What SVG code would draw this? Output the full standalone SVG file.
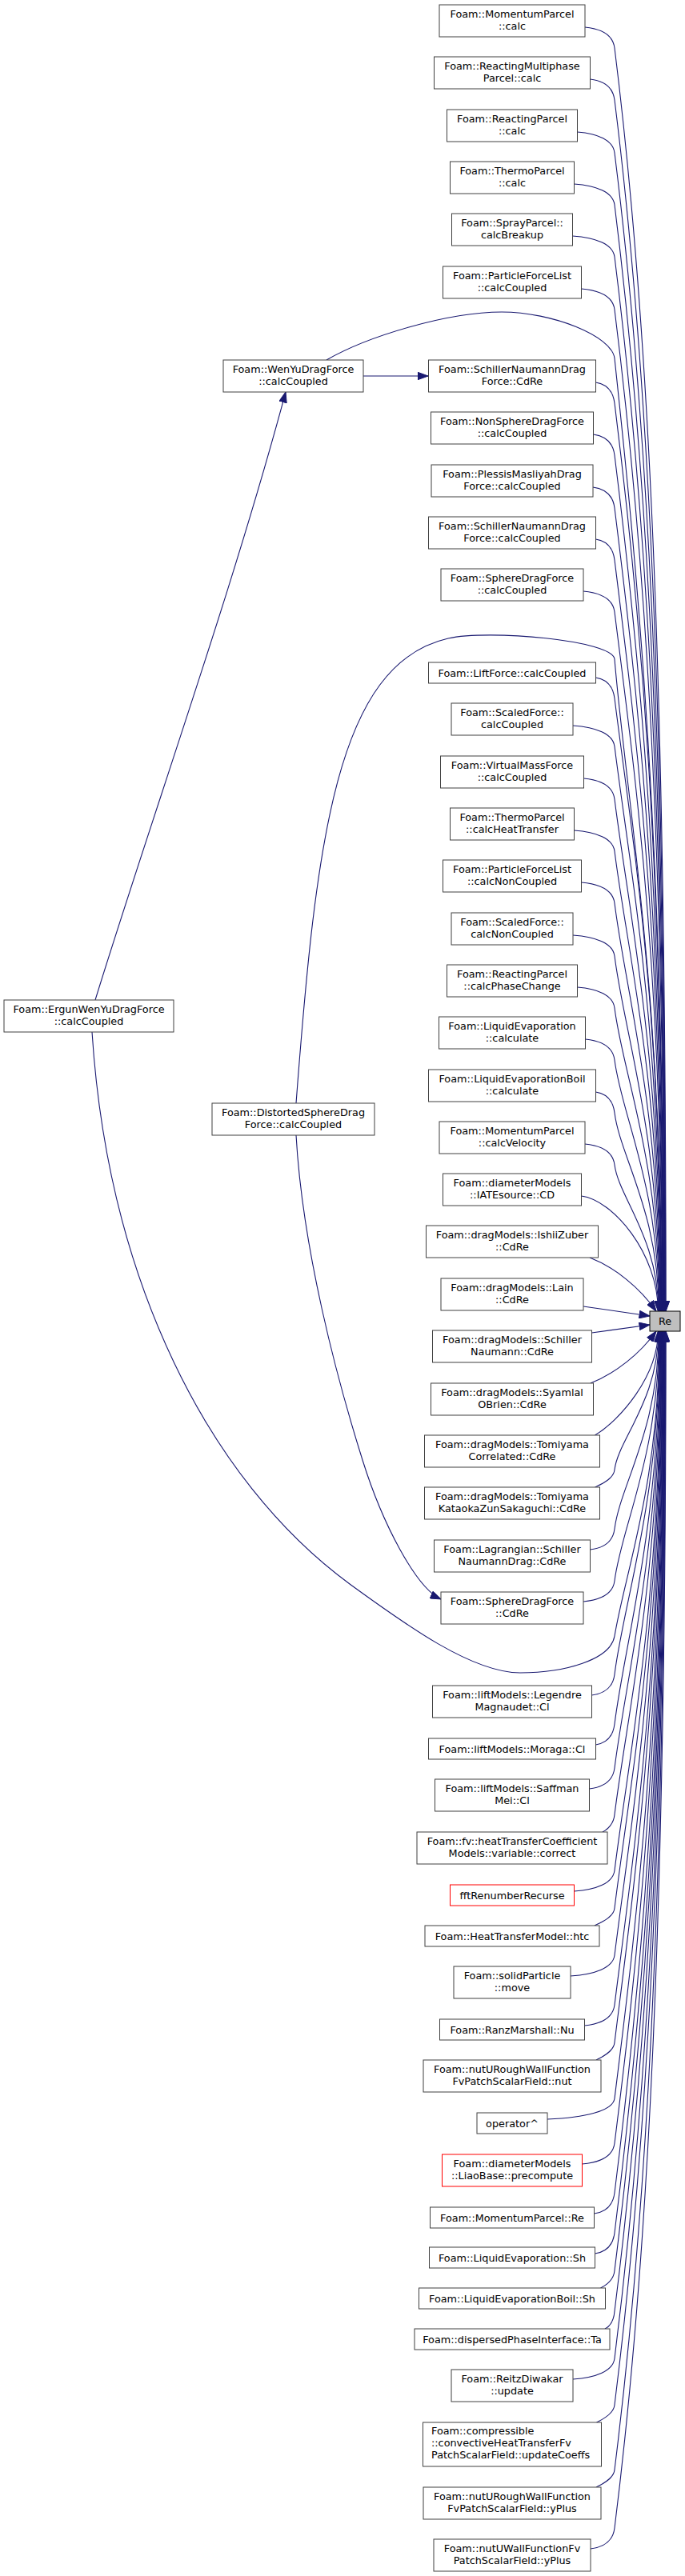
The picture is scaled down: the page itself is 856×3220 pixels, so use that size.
<svg xmlns="http://www.w3.org/2000/svg" width="856" height="3220" viewBox="0 0 856 3220">
<style>
.node rect{fill:#ffffff;stroke:#404040;stroke-width:1}
.node.red rect{stroke:#ff0000}
#re rect{fill:#bfbfbf;stroke:#000000}
text{font-family:"DejaVu Sans",sans-serif;font-size:12.8px;fill:#000000;text-anchor:middle}
text.l{text-anchor:start}
.edges path{fill:none;stroke:#191970;stroke-width:1.1;marker-end:url(#arr)}
</style>
<defs>
<marker id="arr" markerUnits="userSpaceOnUse" markerWidth="14" markerHeight="10" viewBox="0 0 14 10" refX="13.5" refY="5" orient="auto">
<path d="M0.5,0.3 L13.5,5 L0.5,9.7 z" fill="#191970" stroke="#191970" stroke-width="1"/>
</marker>
</defs>
<rect x="0" y="0" width="856" height="3220" fill="#ffffff"/>
<g class="edges">
<path d="M731,34 C751.4,36 766,44 768,60 C811.4,407.4 832.1,849.5 832.1,1639"/>
<path d="M737.5,99 C754.3,101 766,109 768,125 C809.6,458.1 831.7,882 831.7,1639"/>
<path d="M721.5,165 C747.1,167 766,175 768,191 C807.8,509.6 831.2,915 831.2,1639"/>
<path d="M717.5,230 C745.3,232 766,240 768,256 C806,560.3 830.8,947.5 830.8,1639"/>
<path d="M715.5,295 C744.4,297 766,305 768,321 C804.2,611 830.4,980 830.4,1639"/>
<path d="M726.5,361 C749.3,363 766,371 768,387 C802.4,662.4 830,1013 830,1639"/>
<path d="M408,450 C460,420 560,390 627,390 C690,390 765,420 768,448 C796,710 829.6,1043.5 829.6,1639"/>
<path d="M744.5,478 C757.4,480 766,488 768,504 C799.2,753.7 829.1,1071.5 829.1,1639"/>
<path d="M741.5,543 C756.1,545 766,553 768,569 C797.4,804.4 828.7,1104 828.7,1639"/>
<path d="M741,609 C755.9,611 766,619 768,635 C795.6,855.9 828.3,1137 828.3,1639"/>
<path d="M744.5,674 C757.4,676 766,684 768,700 C793.8,906.6 827.9,1169.5 827.9,1639"/>
<path d="M729,739 C750.5,741 766,749 768,765 C792,957.3 827.5,1202 827.5,1639"/>
<path d="M370,1379 C395,1050 420,830 560,798 C610,786.6 766,800 768,824 C783,1003.3 827,1231.5 827,1639"/>
<path d="M744.5,847 C757.4,849 766,857 768,873 C789.1,1041.5 826.6,1256 826.6,1639"/>
<path d="M716,907 C744.6,909 766,917 768,933 C787.4,1088.3 826.2,1286 826.2,1639"/>
<path d="M729.5,973 C750.7,975 766,983 768,999 C785.6,1139.8 825.8,1319 825.8,1639"/>
<path d="M717.5,1038 C745.3,1040 766,1048 768,1064 C783.8,1190.5 825.4,1351.5 825.4,1639"/>
<path d="M726.5,1103 C749.3,1105 766,1113 768,1129 C782,1241.2 824.9,1384 824.9,1639"/>
<path d="M716,1169 C744.6,1171 766,1179 768,1195 C780.2,1292.7 824.5,1417 824.5,1639"/>
<path d="M721.5,1234 C747.1,1236 766,1244 768,1260 C778.4,1343.4 824.1,1449.5 824.1,1639"/>
<path d="M731.5,1299 C751.6,1301 766,1309 768,1325 C776.6,1394.1 823.7,1482 823.7,1639"/>
<path d="M744.5,1365 C757.4,1367 766,1375 768,1391 C774.8,1445.6 823.3,1515 823.3,1639"/>
<path d="M731,1430 C751.4,1432 766,1440 768,1456 C773,1496.3 822.8,1547.5 822.8,1639"/>
<path d="M726.5,1495 C766,1500 822.4,1567 822.4,1639"/>
<path d="M737,1572 C768,1584 800,1610 820,1639"/>
<path d="M729,1633 L812,1645"/>
<path d="M739.5,1666 L812,1656"/>
<path d="M738,1729 C770,1716 800,1692 820,1664"/>
<path d="M743.5,1794 C775,1775 822.4,1720 822.4,1664"/>
<path d="M743.5,1859 C749.5,1856 767,1849 768,1837 C772.8,1799 822.8,1750.5 822.8,1664"/>
<path d="M737.5,1937 C754.3,1935 766,1927 768,1911 C774.8,1856.7 823.3,1787.5 823.3,1664"/>
<path d="M729,2002 C750.5,2000 766,1992 768,1976 C776.6,1907.4 823.7,1820 823.7,1664"/>
<path d="M115,1290 C135,1600 260,1850 437,1980 C507,2031 590,2091 650,2091 C705,2091 763,2075 768,2045 C782,1961.2 824.1,1854.5 824.1,1664"/>
<path d="M739.5,2119 C755.2,2117 766,2109 768,2093 C779.8,1998.6 824.5,1878.5 824.5,1664"/>
<path d="M744.5,2181 C757.4,2179 766,2171 768,2155 C781.5,2047 824.9,1909.5 824.9,1664"/>
<path d="M736.5,2236 C753.8,2234 766,2226 768,2210 C783,2089.9 825.4,1937 825.4,1664"/>
<path d="M753,2290 C759,2287 767,2280 768,2268 C784.6,2135.1 825.8,1966 825.8,1664"/>
<path d="M717.5,2364 C745.3,2362 766,2354 768,2338 C786.5,2189.7 826.2,2001 826.2,1664"/>
<path d="M743,2407 C749,2404 767,2397 768,2385 C787.8,2226.4 826.6,2024.5 826.6,1664"/>
<path d="M713,2470 C743.3,2468 766,2460 768,2444 C789.5,2272.4 827,2054 827,1664"/>
<path d="M730.5,2532 C751.1,2530 766,2522 768,2506 C791.2,2320.8 827.5,2085 827.5,1664"/>
<path d="M745,2575 C751,2572 767,2565 768,2553 C792.4,2357.4 827.9,2108.5 827.9,1664"/>
<path d="M684,2649 C730.2,2647 766,2639 768,2623 C794.4,2412 828.3,2143.5 828.3,1664"/>
<path d="M727.5,2705 C749.8,2703 766,2695 768,2679 C795.9,2455.7 828.7,2171.5 828.7,1664"/>
<path d="M742.5,2767 C756.5,2765 766,2757 768,2741 C797.6,2504.1 829.1,2202.5 829.1,1664"/>
<path d="M743.5,2817 C757,2815 766,2807 768,2791 C799,2543.1 829.6,2227.5 829.6,1664"/>
<path d="M750.5,2860 C756.5,2857 767,2850 768,2838 C800.3,2579.7 830,2251 830,1664"/>
<path d="M756,2911 C762,2908 767,2901 768,2889 C801.7,2619.5 830.4,2276.5 830.4,1664"/>
<path d="M716,2974 C744.6,2972 766,2964 768,2948 C803.3,2665.5 830.8,2306 830.8,1664"/>
<path d="M745.5,3028 C751.5,3025 767,3018 768,3006 C804.9,2710.8 831.2,2335 831.2,1664"/>
<path d="M745,3109 C751,3106 767,3099 768,3087 C807.1,2773.9 831.7,2375.5 831.7,1664"/>
<path d="M738,3186 C754.5,3184 766,3176 768,3160 C809.1,2830.9 832.1,2412 832.1,1664"/>
<path d="M119,1250 C190,1020 290,740 357,490"/>
<path d="M454,470 L535,470"/>
<path d="M370,1419 C378,1560 420,1720 453,1825 C478,1905 520,1985 551,1999"/>
</g>
<g id="re"><rect x="812" y="1639" width="38" height="25"/><text x="831" y="1656">Re</text></g>
<g id="wenyu" class="node"><rect x="279" y="450" width="175" height="40"/><text x="366.5" y="466">Foam::WenYuDragForce</text><text x="366.5" y="481">::calcCoupled</text></g>
<g id="ergun" class="node"><rect x="5" y="1250" width="212" height="40"/><text x="111" y="1266">Foam::ErgunWenYuDragForce</text><text x="111" y="1281">::calcCoupled</text></g>
<g id="distorted" class="node"><rect x="265" y="1379" width="203" height="40"/><text x="366.5" y="1395">Foam::DistortedSphereDrag</text><text x="366.5" y="1410">Force::calcCoupled</text></g>
<g id="n1" class="node"><rect x="549" y="6" width="182" height="40"/><text x="640" y="22">Foam::MomentumParcel</text><text x="640" y="37">::calc</text></g>
<g id="n2" class="node"><rect x="542.5" y="71" width="195" height="40"/><text x="640" y="87">Foam::ReactingMultiphase</text><text x="640" y="102">Parcel::calc</text></g>
<g id="n3" class="node"><rect x="558.5" y="137" width="163" height="40"/><text x="640" y="153">Foam::ReactingParcel</text><text x="640" y="168">::calc</text></g>
<g id="n4" class="node"><rect x="562.5" y="202" width="155" height="40"/><text x="640" y="218">Foam::ThermoParcel</text><text x="640" y="233">::calc</text></g>
<g id="n5" class="node"><rect x="564.5" y="267" width="151" height="40"/><text x="640" y="283">Foam::SprayParcel::</text><text x="640" y="298">calcBreakup</text></g>
<g id="n6" class="node"><rect x="553.5" y="333" width="173" height="40"/><text x="640" y="349">Foam::ParticleForceList</text><text x="640" y="364">::calcCoupled</text></g>
<g id="n7" class="node"><rect x="535.5" y="450" width="209" height="40"/><text x="640" y="466">Foam::SchillerNaumannDrag</text><text x="640" y="481">Force::CdRe</text></g>
<g id="n8" class="node"><rect x="538.5" y="515" width="203" height="40"/><text x="640" y="531">Foam::NonSphereDragForce</text><text x="640" y="546">::calcCoupled</text></g>
<g id="n9" class="node"><rect x="539" y="581" width="202" height="40"/><text x="640" y="597">Foam::PlessisMasliyahDrag</text><text x="640" y="612">Force::calcCoupled</text></g>
<g id="n10" class="node"><rect x="535.5" y="646" width="209" height="40"/><text x="640" y="662">Foam::SchillerNaumannDrag</text><text x="640" y="677">Force::calcCoupled</text></g>
<g id="n11" class="node"><rect x="551" y="711" width="178" height="40"/><text x="640" y="727">Foam::SphereDragForce</text><text x="640" y="742">::calcCoupled</text></g>
<g id="n12" class="node"><rect x="535.5" y="828" width="209" height="26"/><text x="640" y="845.5">Foam::LiftForce::calcCoupled</text></g>
<g id="n13" class="node"><rect x="564" y="879" width="152" height="40"/><text x="640" y="895">Foam::ScaledForce::</text><text x="640" y="910">calcCoupled</text></g>
<g id="n14" class="node"><rect x="550.5" y="945" width="179" height="40"/><text x="640" y="961">Foam::VirtualMassForce</text><text x="640" y="976">::calcCoupled</text></g>
<g id="n15" class="node"><rect x="562.5" y="1010" width="155" height="40"/><text x="640" y="1026">Foam::ThermoParcel</text><text x="640" y="1041">::calcHeatTransfer</text></g>
<g id="n16" class="node"><rect x="553.5" y="1075" width="173" height="40"/><text x="640" y="1091">Foam::ParticleForceList</text><text x="640" y="1106">::calcNonCoupled</text></g>
<g id="n17" class="node"><rect x="564" y="1141" width="152" height="40"/><text x="640" y="1157">Foam::ScaledForce::</text><text x="640" y="1172">calcNonCoupled</text></g>
<g id="n18" class="node"><rect x="558.5" y="1206" width="163" height="40"/><text x="640" y="1222">Foam::ReactingParcel</text><text x="640" y="1237">::calcPhaseChange</text></g>
<g id="n19" class="node"><rect x="548.5" y="1271" width="183" height="40"/><text x="640" y="1287">Foam::LiquidEvaporation</text><text x="640" y="1302">::calculate</text></g>
<g id="n20" class="node"><rect x="535.5" y="1337" width="209" height="40"/><text x="640" y="1353">Foam::LiquidEvaporationBoil</text><text x="640" y="1368">::calculate</text></g>
<g id="n21" class="node"><rect x="549" y="1402" width="182" height="40"/><text x="640" y="1418">Foam::MomentumParcel</text><text x="640" y="1433">::calcVelocity</text></g>
<g id="n22" class="node"><rect x="553.5" y="1467" width="173" height="40"/><text x="640" y="1483">Foam::diameterModels</text><text x="640" y="1498">::IATEsource::CD</text></g>
<g id="n23" class="node"><rect x="532.5" y="1532" width="215" height="40"/><text x="640" y="1548">Foam::dragModels::IshiiZuber</text><text x="640" y="1563">::CdRe</text></g>
<g id="n24" class="node"><rect x="551" y="1598" width="178" height="40"/><text x="640" y="1614">Foam::dragModels::Lain</text><text x="640" y="1629">::CdRe</text></g>
<g id="n25" class="node"><rect x="540.5" y="1663" width="199" height="40"/><text x="640" y="1679">Foam::dragModels::Schiller</text><text x="640" y="1694">Naumann::CdRe</text></g>
<g id="n26" class="node"><rect x="538.5" y="1729" width="203" height="40"/><text x="640" y="1745">Foam::dragModels::Syamlal</text><text x="640" y="1760">OBrien::CdRe</text></g>
<g id="n27" class="node"><rect x="530.5" y="1794" width="219" height="40"/><text x="640" y="1810">Foam::dragModels::Tomiyama</text><text x="640" y="1825">Correlated::CdRe</text></g>
<g id="n28" class="node"><rect x="530.5" y="1859" width="219" height="40"/><text x="640" y="1875">Foam::dragModels::Tomiyama</text><text x="640" y="1890">KataokaZunSakaguchi::CdRe</text></g>
<g id="n29" class="node"><rect x="542.5" y="1925" width="195" height="40"/><text x="640" y="1941">Foam::Lagrangian::Schiller</text><text x="640" y="1956">NaumannDrag::CdRe</text></g>
<g id="n30" class="node"><rect x="551" y="1990" width="178" height="40"/><text x="640" y="2006">Foam::SphereDragForce</text><text x="640" y="2021">::CdRe</text></g>
<g id="n31" class="node"><rect x="540.5" y="2107" width="199" height="40"/><text x="640" y="2123">Foam::liftModels::Legendre</text><text x="640" y="2138">Magnaudet::Cl</text></g>
<g id="n32" class="node"><rect x="535.5" y="2173" width="209" height="26"/><text x="640" y="2190.5">Foam::liftModels::Moraga::Cl</text></g>
<g id="n33" class="node"><rect x="543.5" y="2224" width="193" height="40"/><text x="640" y="2240">Foam::liftModels::Saffman</text><text x="640" y="2255">Mei::Cl</text></g>
<g id="n34" class="node"><rect x="521" y="2290" width="238" height="40"/><text x="640" y="2306">Foam::fv::heatTransferCoefficient</text><text x="640" y="2321">Models::variable::correct</text></g>
<g id="n35" class="node red"><rect x="562.5" y="2356" width="155" height="26"/><text x="640" y="2373.5">fftRenumberRecurse</text></g>
<g id="n36" class="node"><rect x="531" y="2407" width="218" height="26"/><text x="640" y="2424.5">Foam::HeatTransferModel::htc</text></g>
<g id="n37" class="node"><rect x="567" y="2458" width="146" height="40"/><text x="640" y="2474">Foam::solidParticle</text><text x="640" y="2489">::move</text></g>
<g id="n38" class="node"><rect x="549.5" y="2524" width="181" height="26"/><text x="640" y="2541.5">Foam::RanzMarshall::Nu</text></g>
<g id="n39" class="node"><rect x="529" y="2575" width="222" height="40"/><text x="640" y="2591">Foam::nutURoughWallFunction</text><text x="640" y="2606">FvPatchScalarField::nut</text></g>
<g id="n40" class="node"><rect x="596" y="2641" width="88" height="26"/><text x="640" y="2658.5">operator^</text></g>
<g id="n41" class="node red"><rect x="552.5" y="2693" width="175" height="40"/><text x="640" y="2709">Foam::diameterModels</text><text x="640" y="2724">::LiaoBase::precompute</text></g>
<g id="n42" class="node"><rect x="537.5" y="2759" width="205" height="26"/><text x="640" y="2776.5">Foam::MomentumParcel::Re</text></g>
<g id="n43" class="node"><rect x="536.5" y="2809" width="207" height="26"/><text x="640" y="2826.5">Foam::LiquidEvaporation::Sh</text></g>
<g id="n44" class="node"><rect x="523.5" y="2860" width="233" height="26"/><text x="640" y="2877.5">Foam::LiquidEvaporationBoil::Sh</text></g>
<g id="n45" class="node"><rect x="518" y="2911" width="244" height="26"/><text x="640" y="2928.5">Foam::dispersedPhaseInterface::Ta</text></g>
<g id="n46" class="node"><rect x="564" y="2962" width="152" height="40"/><text x="640" y="2978">Foam::ReitzDiwakar</text><text x="640" y="2993">::update</text></g>
<g id="n47" class="node"><rect x="528.5" y="3028" width="223" height="55"/><text class="l" x="539" y="3043">Foam::compressible</text><text class="l" x="539" y="3058">::convectiveHeatTransferFv</text><text class="l" x="539" y="3072.5">PatchScalarField::updateCoeffs</text></g>
<g id="n48" class="node"><rect x="529" y="3109" width="222" height="40"/><text x="640" y="3125">Foam::nutURoughWallFunction</text><text x="640" y="3140">FvPatchScalarField::yPlus</text></g>
<g id="n49" class="node"><rect x="542" y="3174" width="196" height="40"/><text x="640" y="3190">Foam::nutUWallFunctionFv</text><text x="640" y="3205">PatchScalarField::yPlus</text></g>
</svg>
